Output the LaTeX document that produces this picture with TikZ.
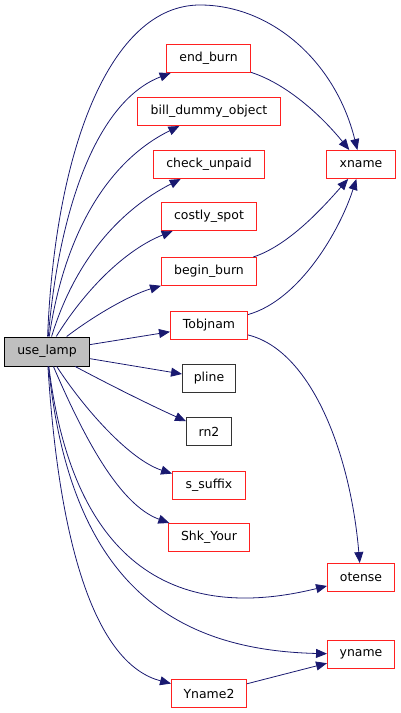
\documentclass[tikz,border=0pt]{standalone}
\usepackage{fontspec}
\setmainfont{DejaVu Sans}
\usetikzlibrary{arrows.meta}

\definecolor{edgeblue}{HTML}{191970}
\definecolor{boxred}{HTML}{FF2020}

\begin{document}
\begin{tikzpicture}[x=1bp, y=1bp,
  font=\fontsize{12.5}{15}\selectfont,
  fn/.style={rectangle, draw=boxred, line width=1bp, inner xsep=10pt,
             minimum height=28bp, minimum width=#1bp},
  ext/.style={fn=#1, draw=black!80},
  root/.style={fn=#1, draw=black, fill=black!25, minimum height=29bp},
  call/.style={-{Triangle[length=11pt,width=9pt]}, edgeblue, line width=0.8pt}]
  \useasboundingbox (0,0) rectangle (400,-713);
  % caller
  \node[root=85] (use_lamp) at (47,-351.5) {use\_lamp};
  % direct callees
  \node[fn=84]  (end_burn)     at (208.5,-58.5) {end\_burn};
  \node[fn=143] (bill_dummy)   at (209,-111.5)  {bill\_dummy\_object};
  \node[fn=111] (check_unpaid) at (209,-164.5)  {check\_unpaid};
  \node[fn=95]  (costly_spot)  at (209,-216.5)  {costly\_spot};
  \node[fn=95]  (begin_burn)   at (209,-271.5)  {begin\_burn};
  \node[fn=77]  (Tobjnam)      at (209,-325.5)  {Tobjnam};
  \node[ext=53] (pline)        at (209,-378.5)  {pline};
  \node[ext=45] (rn2)          at (209,-431.5)  {rn2};
  \node[fn=73]  (s_suffix)     at (209,-485.5)  {s\_suffix};
  \node[fn=81]  (Shk_Your)     at (209,-537.5)  {Shk\_Your};
  \node[fn=75]  (Yname2)       at (209,-693.5)  {Yname2};
  % second level
  \node[fn=69]  (xname)  at (361,-164.5) {xname};
  \node[fn=67]  (otense) at (361,-577.5) {otense};
  \node[fn=67]  (yname)  at (361,-654.5) {yname};
  \coordinate (arch) at (200,-5);
  % edges from use_lamp
  \draw[call] (use_lamp) .. controls (55,-150) and (110,-5) .. (arch)
                         .. controls (270,-5) and (335,-60) .. (xname);
  \draw[call] (use_lamp) .. controls (60,-200) and (100,-100) .. (end_burn);
  \draw[call] (use_lamp) .. controls (65,-230) and (110,-160) .. (bill_dummy);
  \draw[call] (use_lamp) .. controls (75,-260) and (120,-210) .. (check_unpaid);
  \draw[call] (use_lamp) .. controls (85,-290) and (125,-250) .. (costly_spot);
  \draw[call] (use_lamp) .. controls (95,-315) and (130,-295) .. (begin_burn);
  \draw[call] (use_lamp) -- (Tobjnam);
  \draw[call] (use_lamp) -- (pline);
  \draw[call] (use_lamp) .. controls (110,-385) and (150,-405) .. (rn2);
  \draw[call] (use_lamp) .. controls (85,-410) and (130,-460) .. (s_suffix);
  \draw[call] (use_lamp) .. controls (85,-440) and (120,-505) .. (Shk_Your);
  \draw[call] (use_lamp) .. controls (75,-580) and (190,-620) .. (otense);
  \draw[call] (use_lamp) .. controls (70,-580) and (170,-650) .. (yname);
  \draw[call] (use_lamp) .. controls (60,-560) and (100,-665) .. (Yname2);
  % edges between callees
  \draw[call] (end_burn) .. controls (290,-85) and (325,-120) .. (xname);
  \draw[call] (begin_burn) .. controls (290,-245) and (325,-205) .. (xname);
  \draw[call] (Tobjnam) .. controls (300,-300) and (340,-230) .. (xname);
  \draw[call] (Tobjnam) .. controls (310,-350) and (350,-450) .. (otense);
  \draw[call] (Yname2) -- (yname);
\end{tikzpicture}
\end{document}
